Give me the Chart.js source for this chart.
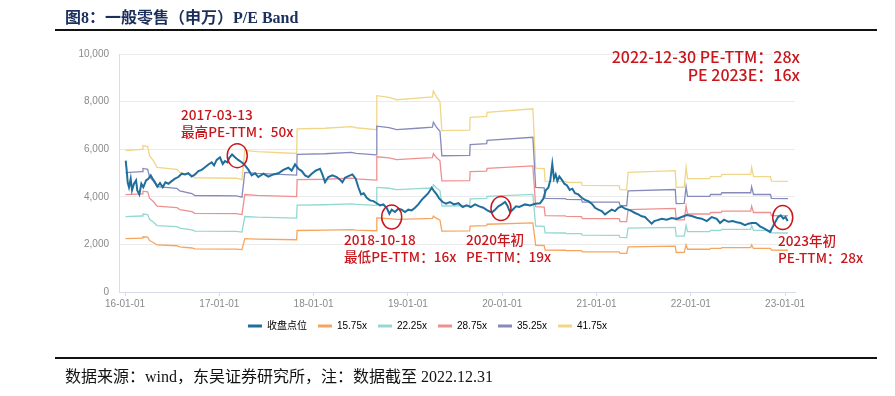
<!DOCTYPE html>
<html>
<head>
<meta charset="utf-8">
<script src="https://cdn.jsdelivr.net/npm/chart.js@4"></script>
<style>
  body { margin: 0; background: #fff; }
  .page { position: relative; width: 895px; height: 396px; overflow: hidden; }
  #peBand { position: absolute; left: 0; top: 0; }
  .title { position: absolute; left: 65px; top: 4px; font: bold 16px "Liberation Serif", "Noto Sans CJK SC", serif; color: #1b2f5c; white-space: nowrap; }
  .rule { position: absolute; left: 55px; width: 822px; height: 2px; background: #111; }
  .source { position: absolute; left: 65px; top: 363px; font: 16px "Liberation Serif", "Noto Sans CJK SC", serif; color: #111; white-space: nowrap; }
</style>
</head>
<body>
<div class="page">
  <canvas id="peBand" width="895" height="396"></canvas>
  <div class="title">图8：一般零售（申万）P/E Band</div>
  <div class="rule" style="top:29px"></div>
  <div class="rule" style="top:357px"></div>
  <div class="source">数据来源：wind，东吴证券研究所，注：数据截至 2022.12.31</div>
</div>
<script>
// x values are years since 2016-01-01
const tickYears = [0, 1, 2, 3, 4, 5, 6, 7];
const tickLabels = ['16-01-01', '17-01-01', '18-01-01', '19-01-01', '20-01-01', '21-01-01', '22-01-01', '23-01-01'];

// 收盘点位
const closeT = [0.007, 0.018, 0.028, 0.042, 0.06, 0.074, 0.095, 0.117, 0.13, 0.152, 0.173, 0.194, 0.223, 0.247, 0.272, 0.293, 0.318, 0.343, 0.371, 0.4,
  0.428, 0.46, 0.495, 0.53, 0.565, 0.601, 0.636, 0.671, 0.707, 0.742, 0.778, 0.813, 0.848, 0.884, 0.919, 0.944, 0.972, 1.007, 1.036, 1.06,
  1.085, 1.106, 1.135, 1.166, 1.2, 1.237, 1.273, 1.308, 1.343, 1.379, 1.414, 1.467, 1.52, 1.573, 1.626, 1.679, 1.732, 1.767, 1.803, 1.838,
  1.874, 1.909, 1.944, 1.98, 2.022, 2.068, 2.093, 2.121, 2.156, 2.199, 2.245, 2.28, 2.305, 2.333, 2.375, 2.411, 2.446, 2.474, 2.503, 2.531,
  2.563, 2.598, 2.634, 2.669, 2.704, 2.739, 2.775, 2.803, 2.828, 2.863, 2.898, 2.934, 2.969, 3.004, 3.04, 3.075, 3.11, 3.146, 3.181, 3.216,
  3.252, 3.277, 3.305, 3.333, 3.369, 3.404, 3.446, 3.489, 3.535, 3.581, 3.623, 3.666, 3.712, 3.757, 3.8, 3.842, 3.889, 3.924, 3.959, 3.995,
  4.03, 4.054, 4.083, 4.111, 4.146, 4.181, 4.242, 4.295, 4.348, 4.401, 4.436, 4.461, 4.489, 4.51, 4.531, 4.549, 4.567, 4.585, 4.606, 4.631,
  4.659, 4.687, 4.716, 4.744, 4.772, 4.807, 4.843, 4.878, 4.913, 4.949, 4.984, 5.019, 5.055, 5.09, 5.125, 5.161, 5.196, 5.231, 5.267, 5.302,
  5.337, 5.373, 5.408, 5.443, 5.479, 5.514, 5.549, 5.585, 5.613, 5.638, 5.691, 5.744, 5.797, 5.85, 5.903, 5.956, 6.01, 6.063, 6.116, 6.169,
  6.222, 6.275, 6.31, 6.352, 6.398, 6.444, 6.487, 6.529, 6.575, 6.61, 6.646, 6.691, 6.734, 6.776, 6.812, 6.84, 6.868, 6.896, 6.925, 6.953,
  6.981, 7.003, 7.027];
const closeV = [5520, 5100, 4610, 4400, 4760, 4270, 4550, 4690, 4270, 4100, 4550, 4400, 4690, 4760, 4900, 4760, 4610, 4430, 4580, 4400,
  4610, 4550, 4660, 4760, 4830, 4970, 4940, 4990, 4850, 4940, 5080, 5130, 5240, 5360, 5450, 5320, 5550, 5660, 5380, 5500,
  5450, 5640, 5780, 5660, 5550, 5450, 5320, 5140, 4900, 4990, 4830, 4970, 4850, 4940, 4990, 5130, 5220, 5100, 5360, 5180,
  5080, 4900, 4830, 4970, 5100, 5180, 4940, 4610, 4830, 4900, 4830, 4720, 4610, 4800, 4880, 4940, 4760, 4400, 4100, 4150,
  3960, 3850, 3820, 3730, 3640, 3680, 3540, 3290, 3460, 3360, 3500, 3460, 3360, 3460, 3430, 3540, 3680, 3870, 4010, 4150,
  4380, 4240, 4100, 3920, 3780, 3710, 3780, 3680, 3730, 3570, 3640, 3570, 3680, 3600, 3540, 3430, 3340, 3460, 3600, 3680,
  3780, 3640, 3360, 3460, 3600, 3570, 3680, 3640, 3710, 3730, 3920, 4270, 4380, 4690, 5380, 4760, 4940, 4660, 4850, 4720,
  4550, 4480, 4290, 4340, 4150, 4100, 3960, 3870, 3820, 3710, 3540, 3460, 3400, 3260, 3360, 3460, 3400, 3540, 3600, 3500,
  3460, 3400, 3320, 3260, 3180, 3150, 3010, 2870, 2980, 3010, 3080, 3040, 3110, 3070, 3150, 3230, 3190, 3120, 3080, 2980,
  3150, 3070, 2900, 3040, 2950, 2980, 2930, 2900, 2810, 2870, 2900, 2900, 2760, 2670, 2590, 2520, 2730, 2940, 3150, 3220,
  3080, 3150, 2980];

// implied earnings per index point behind the PE bands (changes at report dates)
const epsT = [0.005, 0.18, 0.19, 0.24, 0.26, 0.30, 0.34, 0.55, 0.58, 0.71, 0.74, 1.18, 1.24, 1.27, 1.40, 1.82, 1.825, 2.12, 2.40, 2.45,
  2.665, 2.67, 2.80, 2.88, 3.10, 3.26, 3.27, 3.30, 3.34, 3.36, 3.655, 3.66, 3.835, 3.84, 4.325, 4.355, 4.445, 4.455, 4.67, 4.68,
  4.84, 4.85, 5.24, 5.25, 5.32, 5.335, 5.835, 5.845, 5.93, 5.95, 5.965, 6.20, 6.21, 6.32, 6.33, 6.635, 6.645, 6.665, 6.845, 6.855,
  7.03];
const epsV = [142.4, 143.5, 147.3, 146.3, 137.2, 132.2, 125.5, 123.4, 120.5, 117.4, 115.0, 114.5, 113.1, 142.5, 141.3, 139.4, 164.1, 164.8, 166.5, 165.3,
  163.4, 197.6, 195.9, 193.5, 195.2, 196.4, 202.4, 196.9, 191.6, 162.4, 162.9, 175.8, 176.8, 180.8, 184.4, 124.6, 124.1, 111.6, 111.4, 110.4,
  110.2, 107.3, 107.1, 103.0, 102.8, 120.5, 122.2, 105.4, 105.6, 125.5, 114.0, 114.0, 116.2, 116.2, 118.3, 118.3, 125.5, 116.2, 116.2, 111.6,
  111.4];

const peMultiples = [15.75, 22.25, 28.75, 35.25, 41.75];

const RED = '#c8161d';
const bandColors = ['#f6a55e', '#93d8d3', '#ef9090', '#858abb', '#f0d688'];

// circled points (data coords)
const circles = [
  { t: 1.19, v: 5730 },
  { t: 2.828, v: 3150 },
  { t: 3.987, v: 3510 },
  { t: 6.975, v: 3130 }
];
const notes = [
  { text: '2017-03-13', x: 181, y: 115 },
  { text: '最高PE-TTM：50x', x: 181, y: 132 },
  { text: '2018-10-18', x: 344, y: 240 },
  { text: '最低PE-TTM：16x', x: 344, y: 257 },
  { text: '2020年初', x: 466, y: 240 },
  { text: 'PE-TTM：19x', x: 466, y: 257 },
  { text: '2023年初', x: 778, y: 241 },
  { text: 'PE-TTM：28x', x: 778, y: 258 },
  { text: '2022-12-30 PE-TTM：28x', x: 800, y: 57, align: 'right', size: 16 },
  { text: 'PE 2023E：16x', x: 800, y: 75, align: 'right', size: 16 }
];

const notesPlugin = {
  id: 'notes',
  afterDraw(chart) {
    const { ctx, scales: { x, y } } = chart;
    ctx.save();
    ctx.strokeStyle = RED;
    ctx.lineWidth = 1.5;
    circles.forEach(c => {
      ctx.beginPath();
      ctx.ellipse(x.getPixelForValue(c.t), y.getPixelForValue(c.v), 10, 12, 0, 0, Math.PI * 2);
      ctx.stroke();
    });
    ctx.fillStyle = RED;
    ctx.textBaseline = 'middle';
    notes.forEach(n => {
      ctx.font = '500 ' + (n.size || 13.6) + 'px "Noto Sans CJK SC", "Noto Sans", sans-serif';
      ctx.textAlign = n.align || 'left';
      ctx.fillText(n.text, n.x, n.y);
    });
    ctx.restore();
  }
};

const datasets = [{
  label: '收盘点位',
  data: closeT.map((t, i) => ({ x: t, y: closeV[i] })),
  borderColor: '#1f6e9c',
  backgroundColor: '#1f6e9c',
  borderWidth: 2
}];
peMultiples.forEach((m, k) => {
  datasets.push({
    label: m.toFixed(2) + 'x',
    data: epsT.map((t, i) => ({ x: t, y: epsV[i] * m })),
    borderColor: bandColors[k],
    backgroundColor: bandColors[k],
    borderWidth: 1.3
  });
});

const axisBlue = '#d6dcea';
const tickFont = { size: 10, family: '"Liberation Sans", Arial, sans-serif' };

new Chart(document.getElementById('peBand').getContext('2d'), {
  type: 'line',
  data: { datasets },
  options: {
    responsive: false,
    animation: false,
    layout: { padding: { left: 60, right: 100, top: 54, bottom: 55 } },
    elements: { point: { radius: 0 }, line: { tension: 0 } },
    plugins: {
      tooltip: { enabled: false },
      legend: {
        position: 'bottom',
        labels: {
          boxWidth: 14,
          boxHeight: 3,
          padding: 11,
          color: '#555',
          font: { size: 10, family: '"Liberation Sans", "Noto Sans CJK SC", sans-serif' },
          generateLabels(chart) {
            return chart.data.datasets.map((ds, i) => ({
              text: ds.label,
              fillStyle: ds.borderColor,
              strokeStyle: ds.borderColor,
              lineWidth: 0,
              hidden: false,
              datasetIndex: i
            }));
          }
        }
      }
    },
    scales: {
      x: {
        type: 'linear',
        min: -0.064,
        max: 7.105,
        afterBuildTicks(scale) {
          scale.ticks = tickYears.map(v => ({ value: v }));
        },
        afterFit(scale) { scale.height = 18; },
        ticks: {
          padding: 2,
          color: '#8a8a8a',
          font: tickFont,
          maxRotation: 0,
          autoSkip: false,
          callback: (v) => tickLabels[tickYears.indexOf(v)]
        },
        grid: { drawOnChartArea: false, drawTicks: true, tickLength: 4, color: axisBlue },
        border: { color: axisBlue }
      },
      y: {
        min: 0,
        max: 10000,
        afterFit(scale) { scale.width = 59; },
        ticks: {
          stepSize: 2000,
          padding: 10,
          color: '#8a8a8a',
          font: tickFont,
          callback: (v) => v.toLocaleString('en-US')
        },
        grid: { color: '#ebebeb', drawTicks: false },
        border: { color: axisBlue }
      }
    }
  },
  plugins: [notesPlugin]
});
</script>
</body>
</html>
